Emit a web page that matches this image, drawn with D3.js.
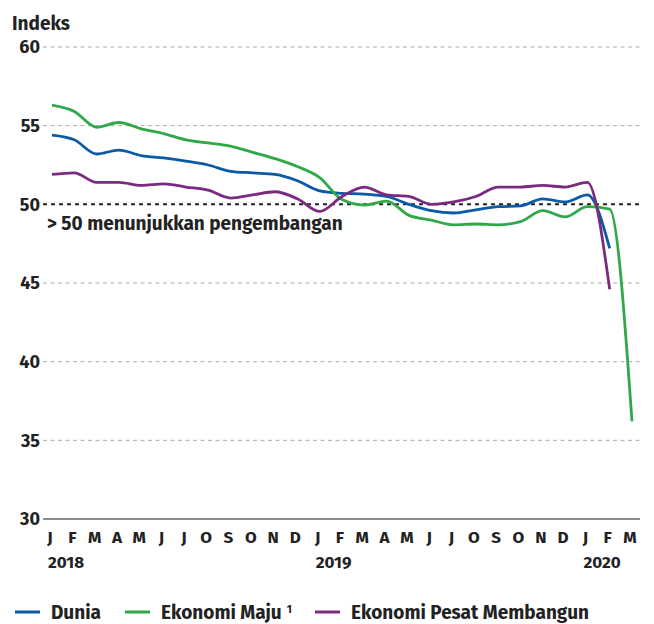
<!DOCTYPE html>
<html>
<head>
<meta charset="utf-8">
<script src="https://cdn.jsdelivr.net/npm/d3@7"></script>
<style>
  body { margin: 0; background: #fff; }
  text { font-family: "Fira Sans", "Noto Sans", sans-serif; fill: #222; font-weight: 700; }
</style>
</head>
<body>
<div id="chart"></div>
<script>
const MONTHS = ["J","F","M","A","M","J","J","O","S","O","N","D",
                "J","F","M","A","M","J","J","O","S","O","N","D",
                "J","F","M"];
const YEARS = [{ label: "2018", idx: 0 }, { label: "2019", idx: 12 }, { label: "2020", idx: 24 }];
const Y_TICKS = [30, 35, 40, 45, 50, 55, 60];

const dunia = [54.4, 54.1, 53.2, 53.45, 53.1, 52.95, 52.75, 52.5, 52.1, 52.0, 51.9, 51.5,
               50.85, 50.7, 50.65, 50.5, 50.0, 49.6, 49.45, 49.65, 49.85, 49.9, 50.35, 50.15,
               50.6, 47.2];
const maju = [56.3, 55.9, 54.9, 55.2, 54.8, 54.5, 54.1, 53.9, 53.7, 53.3, 52.9, 52.4,
              51.7, 50.3, 49.95, 50.2, 49.3, 49.0, 48.7, 48.75, 48.7, 48.9, 49.6, 49.2,
              49.85, 49.7, 36.2];
const pesat = [51.9, 52.0, 51.4, 51.4, 51.2, 51.3, 51.1, 50.9, 50.4, 50.6, 50.8, 50.35,
               49.55, 50.5, 51.1, 50.6, 50.5, 50.0, 50.15, 50.5, 51.1, 51.1, 51.2, 51.1,
               51.4, 44.6];

const SERIES = [
  { name: "Dunia", values: dunia, color: "#0b5aa6" },
  { name: "Ekonomi Maju", sup: "1", values: maju, color: "#2fa84a" },
  { name: "Ekonomi Pesat Membangun", values: pesat, color: "#7a2a7f" }
];

const W = 654, H = 624;
const svg = d3.select("#chart").append("svg")
  .attr("width", W).attr("height", H);

const x = d3.scalePoint().domain(d3.range(MONTHS.length)).range([52, 632]);
const y = d3.scaleLinear().domain([30, 60]).range([519, 47]);
const gridX0 = 43, gridX1 = 640;

svg.append("text").attr("x", 12).attr("y", 30)
  .style("font-size", "19px").text("Indeks");

// gridlines + y labels
Y_TICKS.forEach(t => {
  if (t === 30) {
    svg.append("line")
      .attr("x1", gridX0).attr("x2", gridX1)
      .attr("y1", y(t)).attr("y2", y(t))
      .attr("stroke", "#666").attr("stroke-width", 1.5);
  } else if (t === 50) {
    svg.append("line")
      .attr("x1", gridX0).attr("x2", gridX1)
      .attr("y1", y(t)).attr("y2", y(t))
      .attr("stroke", "#222").attr("stroke-width", 2)
      .attr("stroke-dasharray", "4,4");
  } else {
    svg.append("line")
      .attr("x1", gridX0).attr("x2", gridX1)
      .attr("y1", y(t)).attr("y2", y(t))
      .attr("stroke", "#aaa").attr("stroke-width", 1)
      .attr("stroke-dasharray", "4,3.5");
  }
  svg.append("text")
    .attr("x", 40).attr("y", y(t))
    .attr("text-anchor", "end").attr("dy", "0.35em")
    .style("font-size", "18px")
    .text(t);
});

svg.append("text").attr("x", 47).attr("y", 230)
  .style("font-size", "19px").text("> 50 menunjukkan pengembangan");

// month labels
svg.append("g").selectAll("text").data(MONTHS).join("text")
  .attr("x", (d, i) => x(i) - 2)
  .attr("y", 543)
  .attr("text-anchor", "middle")
  .style("font-size", "17px")
  .text(d => d);

svg.append("g").selectAll("text").data(YEARS).join("text")
  .attr("x", d => x(d.idx) - 4)
  .attr("y", 568)
  .style("font-size", "17px")
  .text(d => d.label);

const line = d3.line()
  .x((d, i) => x(i))
  .y(d => y(d))
  .curve(d3.curveMonotoneX);

svg.append("g").selectAll("path").data(SERIES).join("path")
  .attr("fill", "none")
  .attr("stroke", d => d.color)
  .attr("stroke-width", 2.8)
  .attr("stroke-linejoin", "round")
  .attr("d", d => line(d.values));

// legend
const legY = 612;
const legX = [15, 125, 315];
const leg = svg.append("g");
SERIES.forEach((s, i) => {
  leg.append("line")
    .attr("x1", legX[i]).attr("x2", legX[i] + 25)
    .attr("y1", legY).attr("y2", legY)
    .attr("stroke", s.color).attr("stroke-width", 3);
  const t = leg.append("text")
    .attr("x", legX[i] + 36).attr("y", legY)
    .attr("dy", "0.35em")
    .style("font-size", "19px")
    .text(s.name);
  if (s.sup) {
    t.append("tspan").attr("dx", 5).attr("dy", "-0.5em")
      .style("font-size", "11px").text(s.sup);
  }
});
</script>
</body>
</html>
